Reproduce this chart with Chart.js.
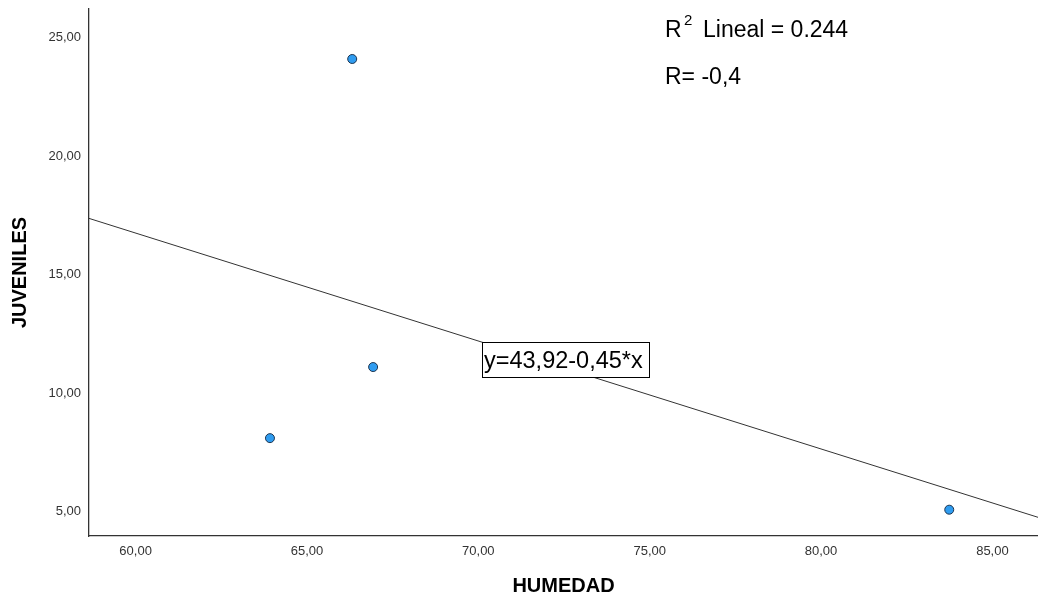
<!DOCTYPE html>
<html>
<head>
<meta charset="utf-8">
<script src="https://cdn.jsdelivr.net/npm/chart.js@4"></script>
<style>
html,body{margin:0;padding:0;background:#fff;}
#wrap{width:1038px;height:598px;position:relative;}
</style>
</head>
<body>
<div id="wrap"><canvas id="c" width="1038" height="598"></canvas></div>
<script>
// ---- data ----
const humedad   = [66.32, 66.93, 63.92, 83.74];
const juveniles = [24.10, 11.10, 8.10, 5.08];
const xTickValues = [60, 65, 70, 75, 80, 85];
const yTickValues = [5, 10, 15, 20, 25];
const xRange = [58.64, 86.33];
const yRange = [3.97, 26.21];
const xTitle = 'HUMEDAD';
const yTitle = 'JUVENILES';
const equationText = 'y=43,92-0,45*x';
const r2Label = 'R';
const r2Sup = '2';
const r2Text = 'Lineal = 0.244';
const rText = 'R= -0,4';

// ---- least-squares fit of the data ----
function linearFit(xs, ys) {
  const n = xs.length;
  const mx = xs.reduce((a, b) => a + b, 0) / n;
  const my = ys.reduce((a, b) => a + b, 0) / n;
  let sxy = 0, sxx = 0;
  for (let i = 0; i < n; i++) {
    sxy += (xs[i] - mx) * (ys[i] - my);
    sxx += (xs[i] - mx) * (xs[i] - mx);
  }
  const b = sxy / sxx;
  return { a: my - b * mx, b };
}
const fitRes = linearFit(humedad, juveniles);
const fitLine = xRange.map(x => ({ x, y: fitRes.a + fitRes.b * x }));
const points = humedad.map((x, i) => ({ x, y: juveniles[i] }));

const FONT = '"Liberation Sans", Arial, Helvetica, sans-serif';
const fmt = v => Number(v).toFixed(2).replace('.', ',');

const annotations = {
  id: 'annotations',
  afterDatasetDraw(chart, args) {
    if (args.index !== 1) return;
    const ctx = chart.ctx;
    ctx.save();
    ctx.fillStyle = '#fff';
    ctx.fillRect(482.5, 342.5, 167, 35);
    ctx.strokeStyle = '#000';
    ctx.lineWidth = 1;
    ctx.strokeRect(482.5, 342.5, 167, 35);
    ctx.fillStyle = '#000';
    ctx.textBaseline = 'alphabetic';
    ctx.textAlign = 'left';
    ctx.font = '23.5px ' + FONT;
    ctx.fillText(equationText, 484, 368);
    ctx.restore();
  },
  afterDraw(chart) {
    const ctx = chart.ctx;
    ctx.save();
    ctx.fillStyle = '#000';
    ctx.textBaseline = 'alphabetic';
    ctx.textAlign = 'left';
    ctx.font = '23px ' + FONT;
    ctx.fillText(r2Label, 665, 37);
    ctx.font = '15px ' + FONT;
    ctx.fillText(r2Sup, 684, 25);
    ctx.font = '23px ' + FONT;
    ctx.fillText(r2Text, 703, 37);
    ctx.fillText(rText, 665, 83.5);
    ctx.restore();
  }
};

new Chart(document.getElementById('c'), {
  type: 'scatter',
  data: {
    datasets: [
      {
        label: 'JUVENILES',
        data: points,
        order: 0,
        pointRadius: 4.5,
        pointHoverRadius: 4.5,
        pointBackgroundColor: '#2f9cf0',
        pointBorderColor: '#1d3550',
        pointBorderWidth: 1,
        showLine: false
      },
      {
        label: 'Lineal',
        data: fitLine,
        order: 1,
        showLine: true,
        borderColor: '#333',
        borderWidth: 1,
        pointRadius: 0,
        fill: false
      }
    ]
  },
  options: {
    responsive: false,
    animation: false,
    devicePixelRatio: 1,
    layout: { autoPadding: false, padding: { top: 9, left: 0, right: 0, bottom: 0 } },
    plugins: { legend: { display: false }, tooltip: { enabled: false } },
    scales: {
      x: {
        type: 'linear',
        min: xRange[0],
        max: xRange[1],
        grid: { display: false, drawTicks: false },
        border: { display: true, color: '#333', width: 1.3 },
        afterBuildTicks: s => { s.ticks = xTickValues.map(v => ({ value: v })); },
        afterFit: s => { s.height = 62; s.paddingLeft = 0; s.paddingRight = 0; s.paddingTop = 0; s.paddingBottom = 0; },
        ticks: {
          padding: 8,
          color: '#333',
          font: { family: FONT, size: 13 },
          callback: v => fmt(v)
        },
        title: {
          display: true,
          text: xTitle,
          color: '#000',
          font: { family: FONT, size: 20, weight: 'bold' },
          padding: { top: 0, bottom: 0 }
        }
      },
      y: {
        type: 'linear',
        min: yRange[0],
        max: yRange[1],
        grid: { display: false, drawTicks: false },
        border: { display: true, color: '#333', width: 1.3 },
        afterBuildTicks: s => { s.ticks = yTickValues.map(v => ({ value: v })); },
        afterFit: s => { s.width = 89; s.paddingLeft = 0; s.paddingRight = 0; s.paddingTop = 0; s.paddingBottom = 0; },
        ticks: {
          padding: 8,
          color: '#333',
          font: { family: FONT, size: 13 },
          callback: v => fmt(v)
        },
        title: {
          display: true,
          text: yTitle,
          color: '#000',
          font: { family: FONT, size: 20, weight: 'bold' },
          padding: { top: 8, bottom: 0 }
        }
      }
    }
  },
  plugins: [annotations]
});
</script>
</body>
</html>
